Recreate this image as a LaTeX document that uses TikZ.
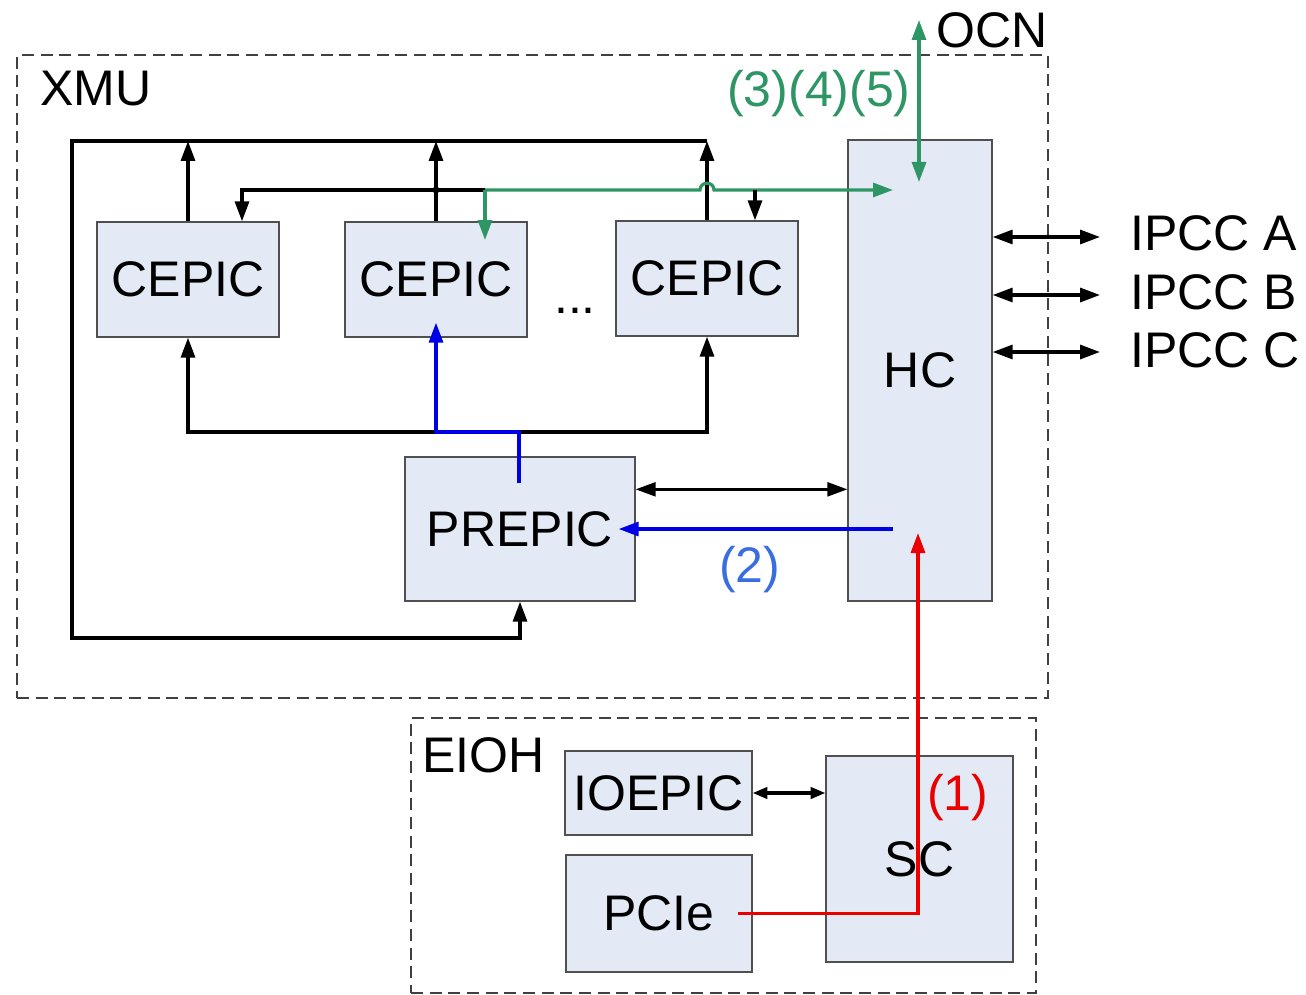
\documentclass[tikz,border=0pt]{standalone}
\usepackage{fontspec}
\setmainfont{Liberation Sans}
\usetikzlibrary{arrows.meta,calc}
\definecolor{boxfill}{RGB}{228,234,245}
\definecolor{boxline}{RGB}{80,80,80}
\definecolor{grn}{RGB}{46,150,100}
\definecolor{blu}{RGB}{0,0,230}
\definecolor{lblu}{RGB}{58,110,224}
\definecolor{rd}{RGB}{235,0,0}
\begin{document}
\begin{tikzpicture}[x=0.75pt,y=-0.75pt,
 lbl/.style={font=\fontsize{37.5}{45}\selectfont, inner sep=0pt},
 box/.style={draw=boxline, line width=1pt, fill=boxfill, inner sep=0pt, font=\fontsize{37.5}{45}\selectfont},
 frame/.style={draw=black!75, line width=1.1pt, dash pattern=on 9pt off 5pt, inner sep=0pt},
 wire/.style={line width=2.4pt},
 >={Triangle[length=15pt,width=10.5pt]},
 small/.style={>={Triangle[length=11pt,width=8.5pt]}},
]
\useasboundingbox (0,0) rectangle (1306,995);
% frames
\node[frame, minimum width=773.25pt, minimum height=482.25pt] (xmu) at (532.5,376.5) {};
\node[frame, minimum width=468.75pt, minimum height=206.25pt] (eioh) at (723.5,855.5) {};
\node[lbl, anchor=base west] (xmul) at (40,106) {XMU};
\node[lbl, anchor=base west] (eiohl) at (422,772) {EIOH};
% boxes
\node[box, minimum width=136.5pt, minimum height=86.25pt] (cepicA) at (188,279.5) {CEPIC};
\node[box, minimum width=136.5pt, minimum height=86.25pt] (cepicB) at (436,279.5) {CEPIC};
\node[box, minimum width=136.5pt, minimum height=86.25pt] (cepicC) at (707,278.5) {CEPIC};
\node[lbl, anchor=base] (dots) at (575,313) {...};
\node[box, minimum width=108pt, minimum height=345.75pt] (hc) at (920,370.5) {HC};
\node[box, minimum width=172.5pt, minimum height=108pt] (prepic) at (520,529) {PREPIC};
\node[box, minimum width=140.25pt, minimum height=63pt] (ioepic) at (658.5,793) {IOEPIC};
\node[box, minimum width=139.5pt, minimum height=87.75pt] (pcie) at (659,913.5) {PCIe};
\node[box, minimum width=140.25pt, minimum height=154.5pt] (sc) at (919.5,859) {SC};
% coordinates
\coordinate (tl) at (72,141);
\coordinate (tr) at (707,141);
\coordinate (bl) at (72,638);
\coordinate (gj) at (485,190);
\coordinate (mb) at (519,432);
\coordinate (hcg) at (893,190);
\coordinate (ocn) at (919,20);
\coordinate (ocnin) at (919,182);
\coordinate (hcb) at (893,529);
\coordinate (hcr) at (918,533);
\coordinate (ipA) at (1100,237);
\coordinate (ipB) at (1100,295);
\coordinate (ipC) at (1100,352);
\coordinate (c3d) at ($(cepicC.north)+(48,0)$);
\coordinate (c1d) at ($(cepicA.north)+(54,0)$);
\coordinate (pa) at ($(prepic.north east)+(0,33)$);
% black connectors
\draw[wire,->] (tr) -- (tl) -- (bl) -| (prepic.south);
\draw[wire,->] (cepicA.north) -- (cepicA.north |- tl);
\draw[wire,->] (cepicB.north) -- (cepicB.north |- tl);
\draw[wire,->] (cepicC.north) -- (tr);
\draw[wire,->] (gj) -| (c1d);
\fill (cepicB.north |- gj) circle (3.5);
\draw[wire,<->] (cepicA.south) |- (mb) -| (cepicC.south);
\draw[line width=1.8pt,<->] (pa) -- (pa -| hc.west);
\draw[wire,<->] (hc.east |- ipA) -- (ipA);
\draw[wire,<->] (hc.east |- ipB) -- (ipB);
\draw[wire,<->] (hc.east |- ipC) -- (ipC);
\draw[wire,small,<->] (ioepic.east) -- (ioepic.east -| sc.west);
% green
\draw[wire,grn,->] (gj) -- (700,190) .. controls (700,181) and (714,181) .. (714,190) -- (hcg);
\draw[wire,grn,->] (gj) -- ($(gj)+(0,50)$);
\draw[wire,grn,<->] (ocn) -- (ocnin);
\draw[wire,->] (c3d |- gj) -- (c3d);
% blue
\draw[wire,blu,->] ($(prepic.north)+(-1,27)$) -- (mb) -| ($(cepicB.south)+(0,-15)$);
\draw[wire,blu,->] (hcb) -- ($(prepic.east)+(-17,0)$);
% red
\draw[wire,rd,->] ($(pcie.east)+(-15,0)$) -| (hcr);
% labels
\node[lbl, text=grn, anchor=base west] (l345) at (727,107) {(3)(4)(5)};
\node[lbl, anchor=base west] (ocnl) at (936,48) {OCN};
\node[lbl, text=lblu, anchor=base west] (l2) at (719,582) {(2)};
\node[lbl, text=rd, anchor=base west] (l1) at (927,810) {(1)};
\node[lbl, anchor=base west] (ipccA) at (1130,250) {IPCC A};
\node[lbl, anchor=base west] (ipccB) at (1130,309) {IPCC B};
\node[lbl, anchor=base west] (ipccC) at (1130,367) {IPCC C};
\end{tikzpicture}
\end{document}
